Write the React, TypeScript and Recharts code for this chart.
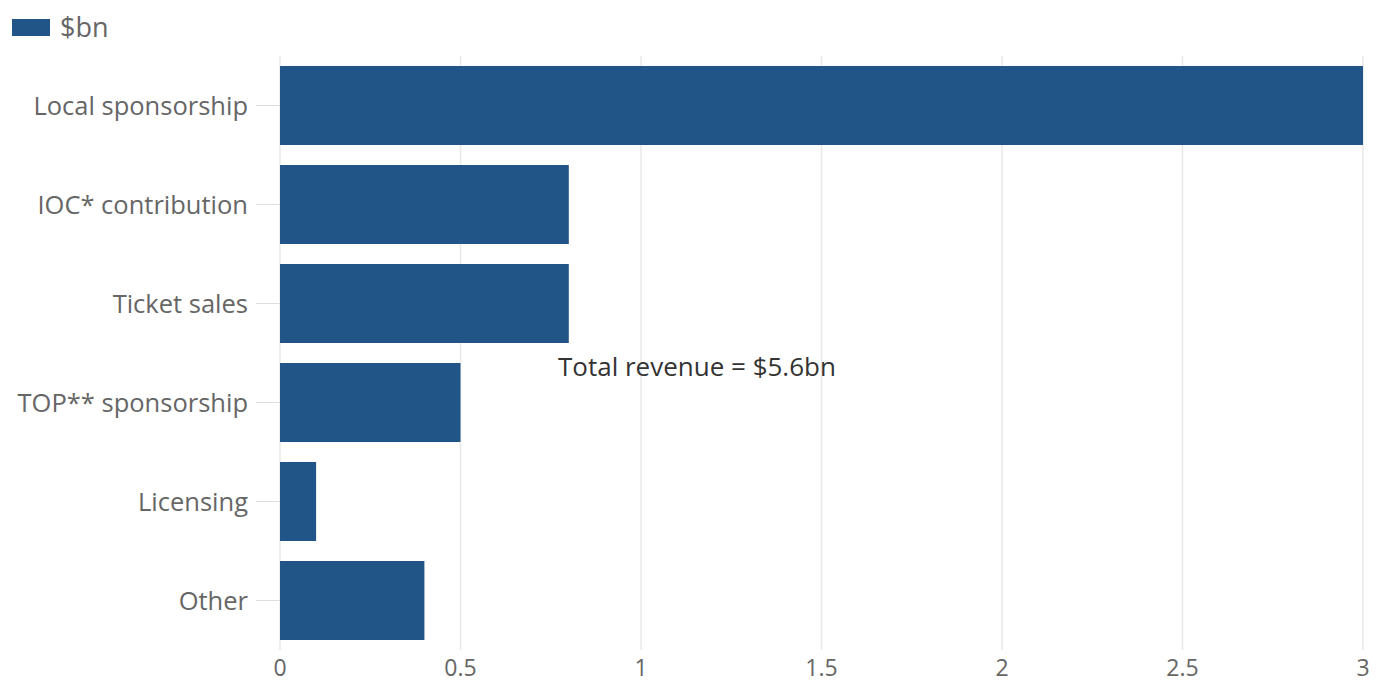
import React from "react";
import { BarChart, Bar, XAxis, YAxis, CartesianGrid, ReferenceDot } from "recharts";

const categories = ["Local sponsorship", "IOC* contribution", "Ticket sales", "TOP** sponsorship", "Licensing", "Other"];
const values = [3.0, 0.8, 0.8, 0.5, 0.1, 0.4];
const xTicks = [0, 0.5, 1, 1.5, 2, 2.5, 3];
const seriesName = "$bn";
const annotationText = "Total revenue = $5.6bn";

const data = categories.map((c, i) => ({ name: c, value: values[i] }));

const FONT = "'Open Sans', sans-serif";
const BLUE = "#215588";

export default function App() {
  return (
    <div style={{ position: "fixed", left: 0, top: 0, width: 1385, height: 684, background: "#fff", fontFamily: FONT }}>
      <div style={{ position: "absolute", left: 12, top: 12, display: "flex", alignItems: "center" }}>
        <div style={{ width: 38, height: 17, background: BLUE }} />
        <span style={{ marginLeft: 10, fontSize: 27, color: "#666", lineHeight: "30px" }}>{seriesName}</span>
      </div>
      <BarChart
        width={1385}
        height={684}
        data={data}
        layout="vertical"
        margin={{ top: 56, right: 22, bottom: 4, left: 0 }}
        barCategoryGap="10%"
      >
        <CartesianGrid horizontal={false} stroke="#e8e8e8" strokeWidth={1.5} />
        <XAxis
          type="number"
          domain={[0, 3]}
          ticks={xTicks}
          axisLine={false}
          tickLine={false}
          tickSize={8}
          tick={{ fill: "#666", fontSize: 23, fontFamily: FONT }}
          height={30}
        />
        <YAxis
          type="category"
          dataKey="name"
          width={280}
          axisLine={false}
          tickSize={24}
          tickMargin={8}
          tickLine={{ stroke: "#ddd" }}
          tick={{ fill: "#666", fontSize: 25.5, fontFamily: FONT }}
        />
        <Bar dataKey="value" name={seriesName} fill={BLUE} isAnimationActive={false} />
        <ReferenceDot
          x={0.77}
          y="TOP** sponsorship"
          r={0}
          fill="none"
          stroke="none"
          label={({ viewBox }: any) => (
            <text
              x={viewBox.x}
              y={viewBox.y - 36}
              dy="0.35em"
              textAnchor="start"
              fill="#333"
              fontSize={26}
              fontFamily={FONT}
            >
              {annotationText}
            </text>
          )}
        />
      </BarChart>
    </div>
  );
}
